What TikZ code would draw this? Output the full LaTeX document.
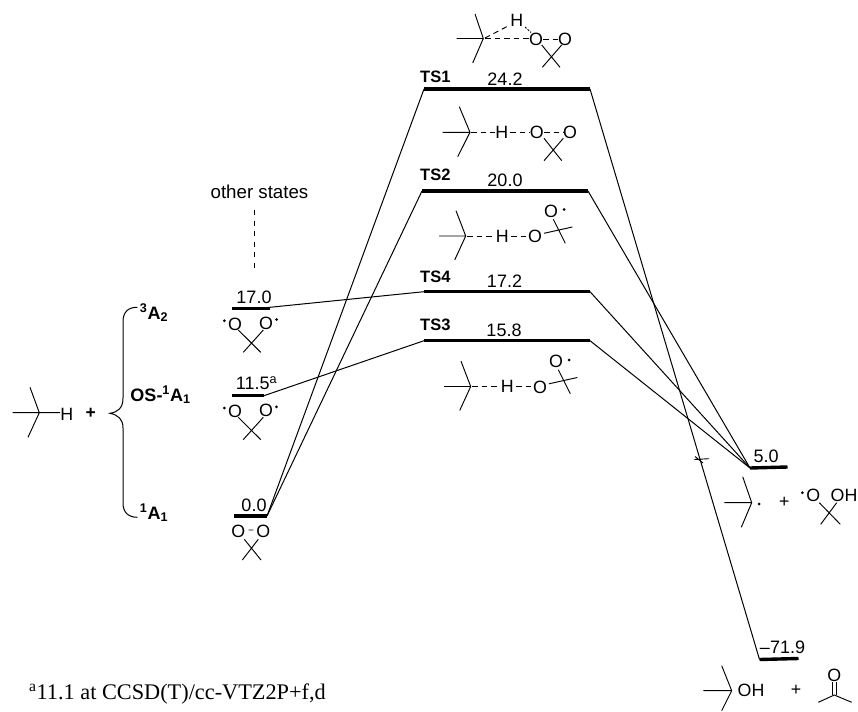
\documentclass[tikz,border=0pt]{standalone}
\usepackage{fontspec}
\setmainfont{Liberation Sans}
\newfontfamily\serifnote{Liberation Serif}
\newcommand{\rad}[2]{\fill (#1,#2) circle (1.5);}
\begin{document}
\begin{tikzpicture}[x=1pt,y=-1pt,
  bond/.style={line width=0.95pt,black},
  dbond/.style={line width=0.95pt,black,dash pattern=on 5.5pt off 4pt},
  atom/.style={font=\fontsize{17.8}{20}\selectfont,inner sep=0pt},
  value/.style={font=\fontsize{18}{20}\selectfont,inner sep=0pt},
  tslabel/.style={font=\fontsize{16.5}{20}\selectfont\bfseries,inner sep=0pt,anchor=west},
  state/.style={font=\fontsize{18}{20}\selectfont\bfseries,inner sep=0pt},
  level/.style={line width=3.4pt,black},
  conn/.style={line width=1pt,black}]
\useasboundingbox (0,0) rectangle (858,711);

% level end points
\coordinate (a3L) at (232,308.5); \coordinate (a3R) at (270,308.5);
\coordinate (osL) at (232,395.7); \coordinate (osR) at (264,395.7);
\coordinate (a1L) at (234,516);   \coordinate (a1R) at (267,516);
\coordinate (ts1L) at (424,89);   \coordinate (ts1R) at (590,89);
\coordinate (ts2L) at (422,191);  \coordinate (ts2R) at (588,191);
\coordinate (ts4L) at (424,291.7);\coordinate (ts4R) at (590,291.7);
\coordinate (ts3L) at (424,340.7);\coordinate (ts3R) at (590,340.7);
\coordinate (p5L) at (750,468);   \coordinate (p5R) at (787.5,467);
\coordinate (p7L) at (759.5,659.5); \coordinate (p7R) at (798.5,658.5);

% connectors
\draw[conn] (a3R) ++(-12,0) -- (ts4L);
\draw[conn] (osR) -- (ts3L);
\draw[conn] (a1R) -- (ts1L);
\draw[conn] (a1R) -- (ts2L);
\draw[conn] (ts1R) -- (p7L);
\draw[conn] (ts2R) -- (p5L);
\draw[conn] (ts4R) -- (p5L);
\draw[conn] (ts3R) -- (p5L);

% levels
\foreach \a/\b in {a3L/a3R,osL/osR,a1L/a1R,ts1L/ts1R,ts2L/ts2R,ts4L/ts4R,ts3L/ts3R,p5L/p5R,p7L/p7R}
  \draw[level] (\a) -- (\b);

% tick on the TS1 connector
\draw[line width=0.9pt] (694.3,459.5) -- (709,458.7) (695,456.5) -- (703,463);

% values and labels
\node[value] (v242) at (505,79) {24.2};
\node[value] (v200) at (505,180) {20.0};
\node[value] (v172) at (504.5,281.7) {17.2};
\node[value] (v158) at (504,330) {15.8};
\node[value] (v170) at (254,297.7) {17.0};
\node[value] (v115) at (256.5,383) {11.5\textsuperscript{a}};
\node[value] (v00) at (254,505) {0.0};
\node[value] (v50) at (766,456) {5.0};
\node[value] (v719) at (782.5,647.3) {–71.9};
\node[tslabel] (lts1) at (420,76.7) {TS1};
\node[tslabel] (lts2) at (420,175) {TS2};
\node[tslabel] (lts4) at (420,276.7) {TS4};
\node[tslabel] (lts3) at (420,325.3) {TS3};
\node[state] (s3) at (154,313) {\textsuperscript{3}A\textsubscript{2}};
\node[state] (sos) at (160.5,395) {OS-\textsuperscript{1}A\textsubscript{1}};
\node[state] (s1) at (154,513) {\textsuperscript{1}A\textsubscript{1}};
\node[value,font=\fontsize{18.7}{20}\selectfont] (other) at (259.5,191.5) {other states};
\coordinate (otherB) at (254.7,210); \coordinate (otherE) at (254.7,268);
\draw[bond,dash pattern=on 5pt off 5.6pt] (otherB) -- (otherE);

% brace
\draw[line width=1pt] (137.3,307.3) .. controls (128,307.3) and (123,312) .. (123,322)
  -- (123,398) .. controls (123,408) and (118,412) .. (110,413.3)
  .. controls (118,415) and (123,419) .. (123,428)
  -- (123,503) .. controls (123,512) and (128,517.3) .. (137.3,517.3);

% left reactant
\draw[bond] (12.7,412.7) -- (39.3,412.7) -- (60,412.7) (30,387.3) -- (39.3,412.7) -- (28,437.3);
\node[atom] (hL) at (66.7,414) {H};
\node[atom,font=\fontsize{17.5}{20}\selectfont\bfseries] (plusL) at (90.7,413) {+};

% dioxiranes on the left
\foreach \n/\d in {a/0,b/87.3}{
  \node[atom] (o1\n) at (235,324+\d) {O};
  \node[atom] (o2\n) at (266,323.5+\d) {O};
  \rad{224.3}{320.7+\d}\rad{276.5}{319.5+\d}
  \draw[bond] (238.3,330+\d) -- (260.7,352.3+\d) (263.3,330+\d) -- (243.3,352.3+\d);
}
\node[atom] (o1c) at (238.3,531.7) {O};
\node[atom] (o2c) at (263.3,531.7) {O};
\draw[bond] (248.5,530) -- (253.3,530) (244.3,539.3) -- (261,560) (258.3,539.3) -- (242.3,560);

% TS1 structure
\draw[bond] (456.7,38.5) -- (483.3,38.5) (475,14) -- (483.3,38.5) -- (472.7,63);
\draw[dbond] (485,38.5) -- (529,38.5);
\draw[dbond] (485,38) -- (510,25);
\node[atom] (h1) at (516.7,20) {H};
\draw[bond,dash pattern=on 2pt off 1.5pt] (525,27) -- (531,32.5);
\node[atom] (o11) at (536,39) {O};
\node[atom] (o12) at (565,39) {O};
\draw[dbond] (543,39) -- (559,39);
\draw[bond] (541.7,45) -- (560,67.3) (561.7,45) -- (542.3,67.3);

% TS2 structure
\draw[bond] (442.7,132.3) -- (470,132.3) (459.3,106.7) -- (470,132.3) -- (457.7,156.7);
\draw[dbond] (471,132.3) -- (495,132.3);
\node[atom] (h2) at (501.7,132.3) {H};
\draw[dbond] (510,132.3) -- (530,132.3);
\node[atom] (o21) at (536.7,132.3) {O};
\node[atom] (o22) at (570,132.3) {O};
\draw[dbond] (544,132.3) -- (564,132.3);
\draw[bond] (544,138.3) -- (561.7,160.7) (563.3,138.3) -- (544,160.7);

% TS4 and TS3 structures
\foreach \n/\dx/\dy in {d/0/0,e/5/150.5}{
  \begin{scope}[shift={(\dx,\dy)}]
  \draw[bond] (439,236) -- (465.7,236) (456,210.7) -- (465.7,236) -- (454.7,260);
  \draw[dbond] (467,236) -- (495,236);
  \node[atom] (h\n) at (502.3,236) {H};
  \draw[dbond] (511,236) -- (528,236);
  \node[atom] (ob\n) at (535,236.7) {O};
  \node[atom] (ot\n) at (551,211) {O};
  \rad{564}{209.5}
  \draw[bond] (544,233.3) -- (572.3,227) (553.3,219.3) -- (565.3,243.3);
  \end{scope}
}

% right products: radical + hydroperoxide
\draw[bond] (724.3,502.7) -- (751.7,502.7) (742.7,476.7) -- (751.7,502.7) -- (741.3,527.3);
\rad{759}{504}
\node[atom] (plusR) at (784.3,502.7) {+};
\rad{802.3}{492.7}
\node[atom] (oR) at (813.3,495) {O};
\node[atom] (ohR) at (844,495) {OH};
\draw[bond] (819.3,502.7) -- (840.3,524.3) (836.7,502.7) -- (820.7,524.3);

% right products: alcohol + acetone
\draw[bond] (703.3,690.7) -- (731.7,690.7) (721.7,665.7) -- (731.7,690.7) -- (721.7,710.7);
\node[atom] (ohB) at (751,690.7) {OH};
\node[atom] (plusB) at (796,690.7) {+};
\node[atom] (oAc) at (834.3,675) {O};
\draw[bond] (832,682) -- (832,695) (836.7,682) -- (836.7,695);
\draw[bond] (818.3,702.3) -- (834.3,695) -- (851.7,702.3);

% footnote
\node[inner sep=0pt,anchor=west,font=\serifnote\fontsize{22.3}{26}\selectfont] (note) at (29,694) {\textsuperscript{a}11.1 at CCSD(T)/cc-VTZ2P+f,d};
\end{tikzpicture}
\end{document}
